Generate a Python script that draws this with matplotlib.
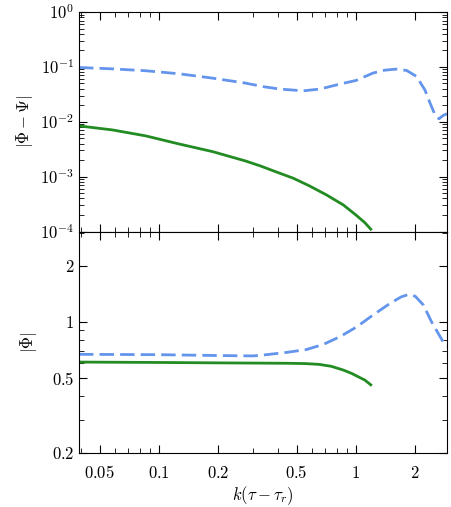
import matplotlib
matplotlib.use("Agg")
import matplotlib.pyplot as plt
from matplotlib.ticker import FixedLocator, FixedFormatter, LogLocator, NullFormatter
import numpy as np

plt.rcParams['mathtext.fontset'] = 'cm'
plt.rcParams['font.family'] = 'serif'
plt.rcParams['font.serif'] = ['DejaVu Serif']

# Top panel: |Phi - Psi|
x_top_green = [0.0393, 0.058, 0.0857, 0.126, 0.187, 0.275, 0.33, 0.38, 0.481, 0.58, 0.71, 0.863, 1.0, 1.11, 1.19]
y_top_green = [0.0084, 0.0071, 0.00553, 0.00395, 0.00286, 0.00193, 0.00155, 0.00128, 0.000935, 0.00068, 0.000463, 0.000305, 0.0002, 0.000145, 0.00011]

x_top_blue = [0.0393, 0.058, 0.0857, 0.126, 0.187, 0.275, 0.34, 0.411, 0.54, 0.656, 0.83, 1.0, 1.22, 1.4, 1.6, 1.81, 2.03, 2.24, 2.38, 2.52, 2.64, 2.77, 2.9]
y_top_blue = [0.0975, 0.092, 0.085, 0.075, 0.0624, 0.0506, 0.0435, 0.0394, 0.0366, 0.0394, 0.0486, 0.0565, 0.077, 0.087, 0.091, 0.086, 0.067, 0.038, 0.0218, 0.0134, 0.0113, 0.013, 0.014]

# Bottom panel: |Phi|
x_bot_green = [0.0393, 0.1, 0.2, 0.338, 0.45, 0.55, 0.65, 0.75, 0.863, 0.95, 1.04, 1.11, 1.19]
y_bot_green = [0.609, 0.606, 0.603, 0.601, 0.600, 0.598, 0.592, 0.578, 0.552, 0.530, 0.505, 0.488, 0.46]

x_bot_blue = [0.0393, 0.1, 0.2, 0.3, 0.338, 0.445, 0.562, 0.683, 0.83, 1.01, 1.22, 1.49, 1.7, 1.85, 2.0, 2.2, 2.42, 2.77, 2.9]
y_bot_blue = [0.670, 0.667, 0.660, 0.657, 0.664, 0.686, 0.711, 0.757, 0.832, 0.94, 1.086, 1.254, 1.36, 1.40, 1.37, 1.23, 1.0, 0.782, 0.74]

xticks = [0.05, 0.1, 0.2, 0.5, 1, 2]
xticklabels = ['$0.05$', '$0.1$', '$0.2$', '$0.5$', '$1$', '$2$']
bot_yticks = [0.2, 0.5, 1, 2]
bot_yticklabels = ['$0.2$', '$0.5$', '$1$', '$2$']
top_yticks = [1e-4, 1e-3, 1e-2, 1e-1, 1e0]
top_yticklabels = ['$10^{-4}$', '$10^{-3}$', '$10^{-2}$', '$10^{-1}$', '$10^{0}$']

green = '#228B22'
blue = '#6495ED'

fig = plt.figure(figsize=(4.52, 5.07), dpi=100)
L, R = 79/452, 447/452
ax1 = fig.add_axes([L, 1-231.5/507, R-L, (231.5-12)/507])
ax2 = fig.add_axes([L, 1-452.5/507, R-L, (452.5-231.5)/507], sharex=ax1)

ax1.plot(x_top_blue, y_top_blue, color=blue, lw=2.0, dashes=(5.2, 2.2))
ax1.plot(x_top_green, y_top_green, color=green, lw=2.0)
ax2.plot(x_bot_blue, y_bot_blue, color=blue, lw=2.0, dashes=(5.2, 2.2))
ax2.plot(x_bot_green, y_bot_green, color=green, lw=2.0)

for ax in (ax1, ax2):
    ax.set_xscale('log')
    ax.set_yscale('log')
    ax.set_xlim(0.0393, 2.9)
    ax.tick_params(which='both', direction='in', top=True, right=True, labelsize=12)
    ax.tick_params(which='major', length=6, width=0.8)
    ax.tick_params(which='minor', length=3.5, width=0.6)
    ax.xaxis.set_major_locator(FixedLocator([0.1, 1]))
    ax.xaxis.set_minor_locator(LogLocator(base=10, subs=np.arange(2, 10)))
    ax.xaxis.set_minor_formatter(NullFormatter())

ax1.set_ylim(1e-4, 1e0)
ax1.yaxis.set_major_locator(FixedLocator(top_yticks))
ax1.yaxis.set_major_formatter(FixedFormatter(top_yticklabels))
ax1.yaxis.set_minor_locator(LogLocator(base=10, subs=np.arange(2, 10)))
ax1.yaxis.set_minor_formatter(NullFormatter())
ax1.tick_params(labelbottom=False)
ax1.set_ylabel(r'$|\Phi-\Psi|$', fontsize=12, labelpad=4)

ax2.set_ylim(0.2, 3.04)
ax2.yaxis.set_major_locator(FixedLocator(bot_yticks))
ax2.yaxis.set_major_formatter(FixedFormatter(bot_yticklabels))
ax2.yaxis.set_minor_locator(FixedLocator([0.3, 0.4, 0.6, 0.7, 0.8, 0.9, 3]))
ax2.yaxis.set_minor_formatter(NullFormatter())
ax2.set_ylabel(r'$|\Phi|$', fontsize=12, labelpad=9)

ax2.set_xticks(xticks, minor=False)
ax2.set_xticklabels(xticklabels)
ax2.xaxis.set_minor_locator(FixedLocator([0.04, 0.06, 0.07, 0.08, 0.09, 0.3, 0.4, 0.6, 0.7, 0.8, 0.9]))
ax2.tick_params(axis='x', which='major', pad=9)
ax2.set_xlabel(r'$k(\tau-\tau_r)$', fontsize=12, labelpad=2)

fig.savefig('out.png', dpi=100)
